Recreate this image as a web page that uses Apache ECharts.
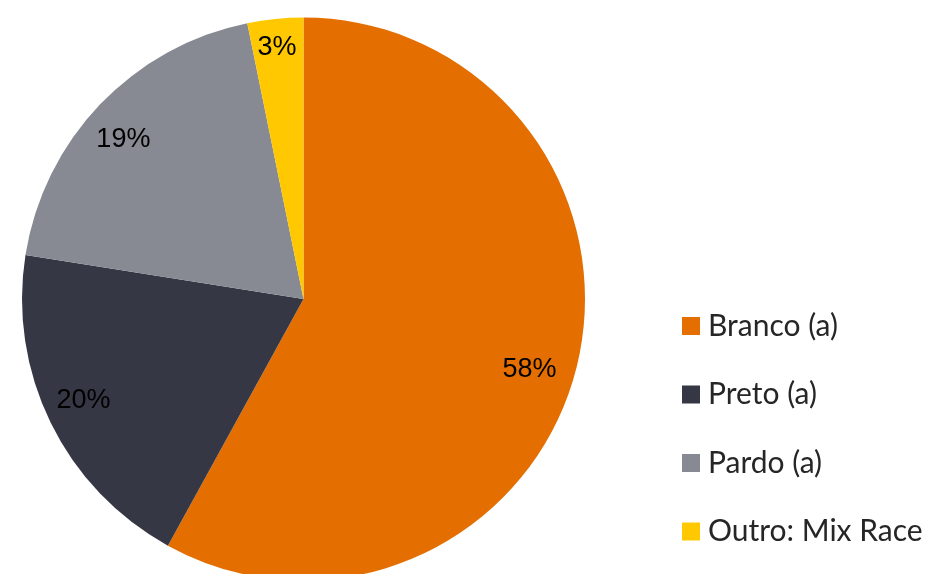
<!DOCTYPE html>
<html><head><meta charset="utf-8">
<script src="https://cdn.jsdelivr.net/npm/echarts@6/dist/echarts.min.js"></script>
<style>html,body{margin:0;padding:0;background:#fff}#c{width:943px;height:574px}</style>
</head><body><div id="c"></div>
<script>
var categories = ['Branco (a)', 'Preto (a)', 'Pardo (a)', 'Outro: Mix Race'];
var values = [58.0, 19.5, 19.3, 3.2];
var colors = ['#E46F00', '#353744', '#878A93', '#FFC800'];
// label nudges (layout only, px)
var labelOffsets = [[-10, 10], [-1, -6], [-4, 9], [-2, -9]];

var chart = echarts.init(document.getElementById('c'), null, {renderer: 'canvas'});
var mainData = categories.map(function (n, i) { return {name: n, value: values[i], itemStyle: {color: colors[i]}}; });
var labelData = categories.map(function (n, i) { return {name: n, value: values[i], label: {offset: labelOffsets[i]}}; });
chart.setOption({
  animation: false,
  legend: {
    orient: 'vertical', left: 682, top: 311, padding: 0,
    data: categories,
    itemWidth: 18, itemHeight: 18, itemGap: 38.5,
    icon: 'rect',
    textStyle: {fontFamily: 'Lato', fontSize: 30, color: '#262626', lineHeight: 30, padding: [0, 0, 0, 3]}
  },
  series: [{
    type: 'pie', center: [303.5, 299], radius: [0, 281.5],
    startAngle: 90, clockwise: true,
    data: mainData,
    label: {show: false}, labelLine: {show: false},
    emphasis: {disabled: true}
  }, {
    type: 'pie', center: [303.5, 299], radius: [200, 281.5],
    startAngle: 90, clockwise: true, silent: true,
    data: labelData,
    itemStyle: {color: 'rgba(0,0,0,0)'},
    label: {show: true, position: 'inside', fontFamily: 'Liberation Sans, Arial', fontSize: 27, color: '#000',
      formatter: function (p) { return Math.round(p.percent) + '%'; }},
    labelLine: {show: false},
    emphasis: {disabled: true}
  }]
});
</script></body></html>
